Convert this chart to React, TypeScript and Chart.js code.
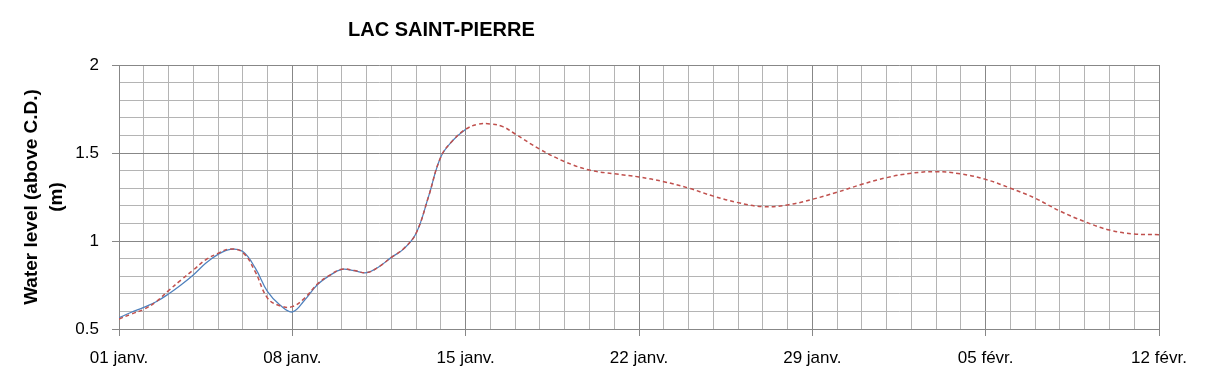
import React, { useEffect, useRef } from "react";
import { Chart, registerables } from "chart.js";

Chart.register(...registerables);

const chartTitle = "LAC SAINT-PIERRE";
const yAxisTitle = ["Water level (above C.D.)", "(m)"];
const xTickLabels = ["01 janv.", "08 janv.", "15 janv.", "22 janv.", "29 janv.", "05 févr.", "12 févr."];

// day offsets from 01 janv.
const forecastDays = [
  0, 0.5, 1, 1.5, 2, 2.5, 3, 3.5, 4, 4.5, 5, 5.5, 6, 6.5, 7, 7.5, 8, 8.5, 9, 9.5, 10, 10.5,
  11, 11.5, 12, 12.5, 13, 13.5, 14, 14.5, 15, 15.5, 16, 17, 18, 19, 20, 21, 22, 23, 24, 25,
  26, 27, 28, 29, 30, 31, 32, 33, 34, 35, 36, 37, 38, 39, 40, 41, 42,
];
const forecastLevels = [
  0.557, 0.585, 0.612, 0.655, 0.718, 0.778, 0.835, 0.893, 0.93, 0.955, 0.935, 0.826, 0.675,
  0.632, 0.627, 0.676, 0.754, 0.805, 0.84, 0.832, 0.82, 0.854, 0.907, 0.957, 1.045, 1.252,
  1.479, 1.574, 1.635, 1.663, 1.665, 1.65, 1.608, 1.521, 1.451, 1.403, 1.382, 1.364, 1.337,
  1.301, 1.255, 1.218, 1.195, 1.205, 1.237, 1.277, 1.322, 1.36, 1.385, 1.394, 1.381, 1.35,
  1.3, 1.243, 1.17, 1.11, 1.062, 1.04, 1.036,
];

const observedDays = [
  0, 0.5, 1, 1.5, 2, 2.5, 3, 3.5, 4, 4.5, 5, 5.5, 6, 6.5, 7, 7.5, 8, 8.5, 9, 9.5, 10, 10.5,
  11, 11.5, 12, 12.5, 13, 13.5, 14,
];
const observedLevels = [
  0.564, 0.595, 0.623, 0.655, 0.699, 0.75, 0.807, 0.873, 0.924, 0.953, 0.94, 0.847, 0.712,
  0.636, 0.597, 0.665, 0.75, 0.803, 0.839, 0.831, 0.82, 0.854, 0.907, 0.955, 1.044, 1.252,
  1.479, 1.574, 1.635,
];

const X_MIN = 0;
const X_MAX = 42;
const Y_MIN = 0.5;
const Y_MAX = 2;

const MINOR = "#b4b4b4";
const MAJOR = "#878787";
const FONT = '"Liberation Sans", Arial, sans-serif';

const isYMajor = (v: number) => Math.abs(v * 2 - Math.round(v * 2)) < 1e-6;
const isXMajor = (v: number) => Math.abs(v / 7 - Math.round(v / 7)) < 1e-6;

const titlePlugin = {
  id: "customTitle",
  afterDraw(chart: any) {
    const { ctx, chartArea } = chart;
    ctx.save();
    ctx.font = `bold 20px ${FONT}`;
    ctx.fillStyle = "#000";
    ctx.textAlign = "center";
    ctx.textBaseline = "middle";
    ctx.fillText(chartTitle, chartArea.left + chartArea.width * 0.31, 30);
    ctx.restore();
  },
};

export default function App() {
  const ref = useRef<HTMLCanvasElement | null>(null);

  useEffect(() => {
    if (!ref.current) return;
    const chart = new Chart(ref.current, {
      type: "line",
      data: {
        datasets: [
          {
            label: "Forecast",
            data: forecastDays.map((d, i) => ({ x: d, y: forecastLevels[i] })),
            borderColor: "#c0504d",
            borderWidth: 1.5,
            borderDash: [4, 3],
            pointRadius: 0,
            tension: 0.4,
            fill: false,
          },
          {
            label: "Observed",
            data: observedDays.map((d, i) => ({ x: d, y: observedLevels[i] })),
            borderColor: "#4f81bd",
            borderWidth: 1.25,
            pointRadius: 0,
            tension: 0.4,
            fill: false,
          },
        ],
      },
      options: {
        responsive: false,
        animation: false,
        layout: { padding: { top: 65, right: 50, left: 0, bottom: 0 } },
        plugins: {
          legend: { display: false },
          tooltip: { enabled: false },
          title: { display: false },
        },
        scales: {
          x: {
            type: "linear",
            min: X_MIN,
            max: X_MAX,
            afterFit: (s: any) => {
              s.height = 49;
            },
            ticks: {
              stepSize: 1,
              autoSkip: false,
              maxRotation: 0,
              minRotation: 0,
              padding: 12,
              color: "#000",
              font: { family: FONT, size: 17 },
              callback: (v: any) => {
                const n = Number(v);
                return isXMajor(n) ? xTickLabels[Math.round(n / 7)] ?? "" : "";
              },
            },
            grid: {
              color: (c: any) => (isXMajor(c.tick?.value ?? 0) ? MAJOR : MINOR),
              tickColor: (c: any) => (isXMajor(c.tick?.value ?? 0) ? MAJOR : "rgba(0,0,0,0)"),
              tickLength: 7,
              lineWidth: 1,
            },
            border: { color: MAJOR, width: 1 },
          },
          y: {
            type: "linear",
            min: Y_MIN,
            max: Y_MAX,
            afterFit: (s: any) => {
              s.width = 119;
            },
            ticks: {
              stepSize: 0.1,
              autoSkip: false,
              padding: 13,
              color: "#000",
              font: { family: FONT, size: 17 },
              callback: (v: any) => {
                const n = Number(v);
                return isYMajor(n) ? String(Math.round(n * 10) / 10) : "";
              },
            },
            grid: {
              color: (c: any) => (isYMajor(c.tick?.value ?? 0) ? MAJOR : MINOR),
              tickColor: (c: any) => (isYMajor(c.tick?.value ?? 0) ? MAJOR : "rgba(0,0,0,0)"),
              tickLength: 7,
              lineWidth: 1,
            },
            border: { color: MAJOR, width: 1 },
            title: {
              display: true,
              text: yAxisTitle,
              color: "#000",
              font: { family: FONT, size: 19, weight: "bold", lineHeight: 1.32 },
              padding: { top: 19, bottom: 0 },
            },
          },
        },
      },
      plugins: [titlePlugin],
    } as any);
    return () => chart.destroy();
  }, []);

  return (
    <div style={{ position: "absolute", left: 0, top: 0, width: 1209, height: 378, background: "#fff" }}>
      <canvas ref={ref} width={1209} height={378} style={{ display: "block" }} />
    </div>
  );
}
